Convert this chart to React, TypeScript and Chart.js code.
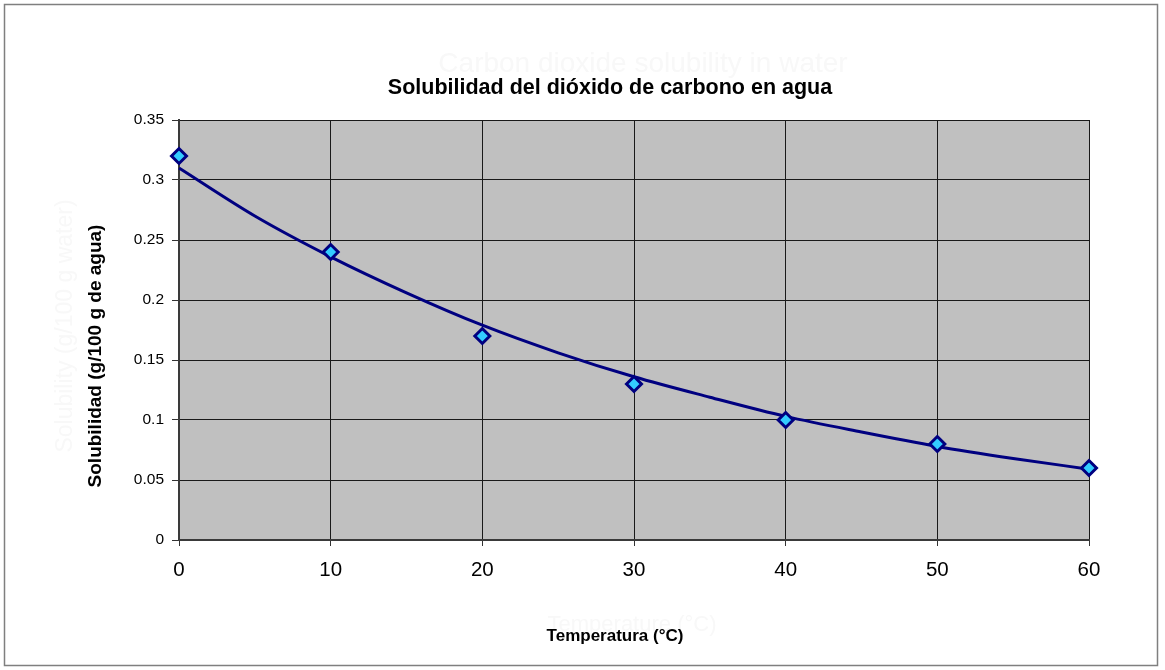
import React, { useEffect, useRef } from "react";
import { Chart, registerables } from "chart.js";

Chart.register(...registerables);

const temperatures = [0, 10, 20, 30, 40, 50, 60];
const solubility = [0.32, 0.24, 0.17, 0.13, 0.1, 0.08, 0.06];
const trendTemps = [0, 5, 10, 15, 20, 25, 30, 35, 40, 45, 50, 55, 60];
const trendValues = [0.31, 0.27, 0.236, 0.206, 0.179, 0.156, 0.136, 0.119, 0.103, 0.09, 0.078, 0.068, 0.059];
const yTicks = [0, 0.05, 0.1, 0.15, 0.2, 0.25, 0.3, 0.35];

const titleText = "Solubilidad del dióxido de carbono en agua";
const ghostTitle = "Carbon dioxide solubility in water";
const yTitle = "Solubilidad (g/100 g de agua)";
const ghostYTitle = "Solubility (g/100 g water)";
const xTitle = "Temperatura (°C)";
const ghostXTitle = "Temperature (°C)";

const FONT = "'Liberation Sans', Arial, sans-serif";

const decorPlugin = {
  id: "decor",
  beforeDraw(chart: any) {
    const ctx = chart.ctx;
    ctx.save();
    ctx.fillStyle = "#ffffff";
    ctx.fillRect(0, 0, chart.width, chart.height);
    ctx.strokeStyle = "#7f7f7f";
    ctx.lineWidth = 1.5;
    ctx.strokeRect(4.5, 4.5, 1153, 661);
    const a = chart.chartArea;
    ctx.fillStyle = "#c0c0c0";
    ctx.fillRect(a.left, a.top, a.right - a.left, a.bottom - a.top);
    ctx.restore();
  },
  afterDraw(chart: any) {
    const ctx = chart.ctx;
    ctx.save();
    ctx.textAlign = "center";
    ctx.textBaseline = "middle";
    // ghost texts (very faint)
    ctx.fillStyle = "#f8f8f8";
    ctx.font = `28px ${FONT}`;
    ctx.fillText(ghostTitle, 643, 64);
    ctx.font = `22px ${FONT}`;
    ctx.fillText(ghostXTitle, 632, 625);
    ctx.save();
    ctx.translate(66, 326);
    ctx.rotate(-Math.PI / 2);
    ctx.font = `23px ${FONT}`;
    ctx.fillText(ghostYTitle, 0, 0);
    ctx.restore();
    // real titles
    ctx.fillStyle = "#000000";
    ctx.font = `bold 21.5px ${FONT}`;
    ctx.fillText(titleText, 610, 88);
    ctx.font = `bold 17px ${FONT}`;
    ctx.fillText(xTitle, 615, 636);
    ctx.save();
    ctx.translate(96, 356);
    ctx.rotate(-Math.PI / 2);
    ctx.font = `bold 19px ${FONT}`;
    ctx.fillText(yTitle, 0, 0);
    ctx.restore();
    ctx.restore();
  },
};

export default function App() {
  const ref = useRef<HTMLCanvasElement>(null);
  useEffect(() => {
    if (!ref.current) return;
    const chart = new Chart(ref.current, {
      type: "scatter",
      data: {
        datasets: [
          {
            label: "Tendencia",
            data: trendTemps.map((t, i) => ({ x: t, y: trendValues[i] })),
            showLine: true,
            borderColor: "#000080",
            borderWidth: 3,
            pointRadius: 0,
            cubicInterpolationMode: "monotone",
            fill: false,
            clip: false,
            order: 2,
          },
          {
            label: "Solubilidad",
            data: temperatures.map((t, i) => ({ x: t, y: solubility[i] })),
            showLine: false,
            pointStyle: "rectRot",
            pointRadius: 7.5,
            pointBackgroundColor: "#33ccff",
            pointBorderColor: "#000080",
            pointBorderWidth: 3,
            clip: false,
            order: 1,
          },
        ],
      },
      options: {
        responsive: false,
        animation: false,
        layout: { padding: { left: 0, right: 76, top: 120, bottom: 0 } },
        plugins: {
          legend: { display: false },
          title: { display: false },
          tooltip: { enabled: false },
        },
        scales: {
          x: {
            type: "linear",
            min: 0,
            max: 60,
            ticks: {
              stepSize: 10,
              color: "#000",
              font: { size: 20.5, family: FONT },
              padding: 12,
            },
            grid: { color: "#1a1a1a", lineWidth: 1, tickLength: 6, tickColor: "#333" },
            border: { color: "#3a3a3a", width: 2 },
            afterFit(scale: any) {
              scale.height = 130;
            },
          },
          y: {
            type: "linear",
            min: 0,
            max: 0.35,
            afterBuildTicks(scale: any) {
              scale.ticks = yTicks.map((v) => ({ value: v }));
            },
            ticks: {
              color: "#000",
              font: { size: 15.5, family: FONT },
              padding: 8,
              callback: (v: any) => String(Number(v)),
            },
            grid: { color: "#1a1a1a", lineWidth: 1, tickLength: 7, tickColor: "#333" },
            border: { color: "#3a3a3a", width: 2 },
            afterFit(scale: any) {
              scale.width = 179;
            },
          },
        },
      },
      plugins: [decorPlugin],
    } as any);
    return () => chart.destroy();
  }, []);
  return (
    <div style={{ position: "absolute", left: 0, top: 0, width: 1165, height: 670 }}>
      <canvas ref={ref} width={1165} height={670} style={{ width: 1165, height: 670 }} />
    </div>
  );
}
